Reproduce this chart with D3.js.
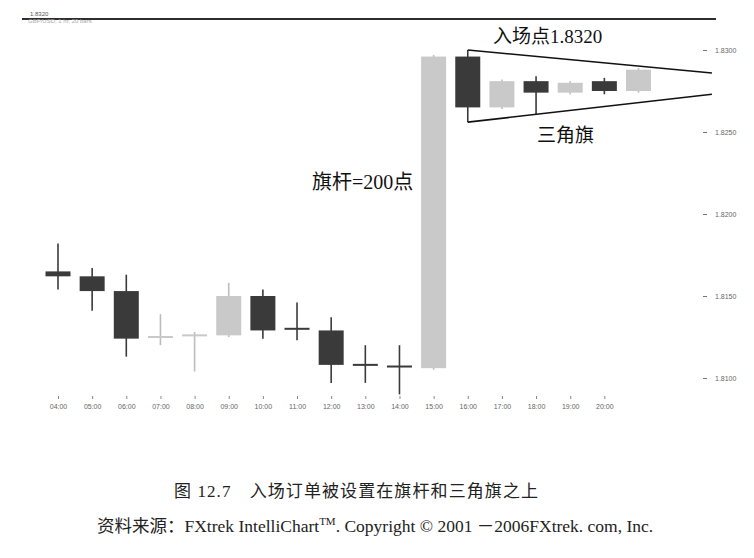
<!DOCTYPE html>
<html><head><meta charset="utf-8">
<script src="https://cdn.jsdelivr.net/npm/d3@7"></script>
<style>html,body{margin:0;padding:0;background:#fff;}</style>
</head><body>
<svg id="c" width="754" height="558"></svg>
<script>
// ---- data ----
const times = ["04:00","05:00","06:00","07:00","08:00","09:00","10:00","11:00","12:00","13:00","14:00","15:00","16:00","17:00","18:00","19:00","20:00","21:00"];
const tickLabels = ["04:00","05:00","06:00","07:00","08:00","09:00","10:00","11:00","12:00","13:00","14:00","15:00","16:00","17:00","18:00","19:00","20:00"];
const openP  = [1.8165,1.8162,1.8153,1.8124,1.8125,1.8126,1.8150,1.8130,1.8129,1.8108,1.8107,1.8106,1.8296,1.8265,1.8281,1.8274,1.8281,1.8275];
const highP  = [1.8182,1.8167,1.8163,1.8139,1.8128,1.8158,1.8154,1.8146,1.8137,1.8120,1.8120,1.8297,1.8300,1.8282,1.8284,1.8281,1.8283,1.8289];
const lowP   = [1.8154,1.8141,1.8113,1.8120,1.8104,1.8125,1.8124,1.8123,1.8097,1.8097,1.8090,1.8105,1.8256,1.8264,1.8261,1.8273,1.8273,1.8274];
const closeP = [1.8162,1.8153,1.8124,1.8125,1.8126,1.8150,1.8129,1.8129,1.8108,1.8107,1.8106,1.8296,1.8265,1.8281,1.8274,1.8280,1.8275,1.8288];
const yTicks = [1.8100,1.8150,1.8200,1.8250,1.8300];
// pennant lines: [index, price]
const pennantTop = [[12,1.8300],[19.15,1.8286]];
const pennantBottom = [[12,1.8256],[19.15,1.8273]];

const svg = d3.select("#c");
const x = d3.scaleLinear().domain([0, 17]).range([58, 638.5]);
const y = d3.scaleLinear().domain([1.81, 1.83]).range([378, 50]);
const dark = "#3a3a3a", light = "#c9c9c9";
const bw = 25;

// header line
svg.append("line").attr("x1",22).attr("x2",716).attr("y1",19).attr("y2",19)
  .attr("stroke","#2e2e2e").attr("stroke-width",2.2);
svg.append("text").attr("x",30).attr("y",16).attr("font-family","Liberation Sans")
  .attr("font-size",6).attr("fill","#555").text("1.8320");
svg.append("text").attr("x",28).attr("y",23).attr("font-family","Liberation Sans")
  .attr("font-size",6).attr("fill","#aaa").text("GBP/USD, 1 hr, 20 bars");

// y axis
const yAxis = d3.axisRight(y).tickValues(yTicks).tickFormat(d3.format(".4f")).tickSize(4).tickPadding(8);
const gy = svg.append("g").attr("transform","translate(703,0)").call(yAxis);
gy.select(".domain").remove();
gy.selectAll("line").attr("stroke","#777");
gy.selectAll("text").attr("font-family","Liberation Sans").attr("font-size",7).attr("fill","#666");

// x axis
const xAxis = d3.axisBottom(x).tickValues(d3.range(tickLabels.length)).tickFormat(i => tickLabels[i]).tickSize(3).tickPadding(5);
const gx = svg.append("g").attr("transform","translate(0,396)").call(xAxis);
gx.select(".domain").remove();
gx.selectAll("line").attr("stroke","#888");
gx.selectAll("text").attr("font-family","Liberation Sans").attr("font-size",7).attr("fill","#666");

// candles
const data = times.map((t,i)=>({t,i,o:openP[i],h:highP[i],l:lowP[i],c:closeP[i]}));
const g = svg.append("g");
g.selectAll("line.wick").data(data).join("line").attr("class","wick")
  .attr("x1",d=>x(d.i)).attr("x2",d=>x(d.i))
  .attr("y1",d=>y(d.h)).attr("y2",d=>y(d.l))
  .attr("stroke",d=>d.c>=d.o?"#bdbdbd":dark).attr("stroke-width",1.6);
g.selectAll("rect.body").data(data).join("rect").attr("class","body")
  .attr("x",d=>x(d.i)-bw/2).attr("width",bw)
  .attr("y",d=>Math.min(y(d.o),y(d.c)) - (Math.abs(y(d.o)-y(d.c))<2 ? 1 : 0))
  .attr("height",d=>Math.max(2,Math.abs(y(d.o)-y(d.c))))
  .attr("fill",d=>d.c>=d.o?light:dark);

// pennant
const line = d3.line().x(d=>x(d[0])).y(d=>y(d[1]));
[pennantTop,pennantBottom].forEach(p=>{
  svg.append("path").attr("d",line(p)).attr("fill","none").attr("stroke","#111").attr("stroke-width",1.6);
});

// annotations
const serif = "'Liberation Serif','Noto Sans CJK SC',serif";
svg.append("text").attr("x",493).attr("y",43).attr("font-family",serif).attr("font-size",19).attr("fill","#111").text("入场点1.8320");
svg.append("text").attr("x",537).attr("y",142).attr("font-family",serif).attr("font-size",19).attr("fill","#111").text("三角旗");
svg.append("text").attr("x",312).attr("y",189).attr("font-family",serif).attr("font-size",20).attr("fill","#111").text("旗杆=200点");

// caption
svg.append("text").attr("x",174).attr("y",497).attr("font-family",serif).attr("font-size",17).attr("fill","#222")
  .attr("textLength",364).text("图 12.7　入场订单被设置在旗杆和三角旗之上");
const src = svg.append("text").attr("x",97).attr("y",532).attr("font-family",serif).attr("font-size",17.5).attr("fill","#222");
src.append("tspan").text("资料来源：FXtrek IntelliChart");
src.append("tspan").attr("dy",-7).attr("font-size",11).text("TM");
src.append("tspan").attr("dy",7).text(". Copyright © 2001 －2006FXtrek. com, Inc.");
</script>
</body></html>
